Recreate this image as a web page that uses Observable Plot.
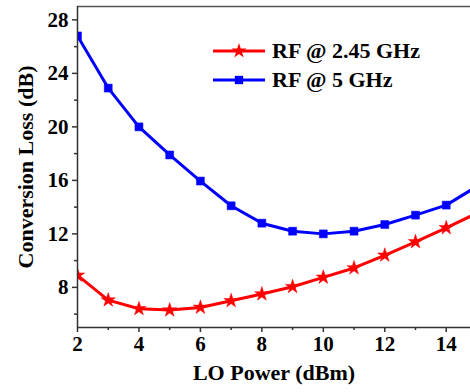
<!DOCTYPE html>
<html>
<head>
<meta charset="utf-8">
<script src="https://cdn.jsdelivr.net/npm/d3@7"></script>
<script src="https://cdn.jsdelivr.net/npm/@observablehq/plot@0.6"></script>
<style>
  html, body { margin: 0; padding: 0; background: #fff; }
  #wrap { position: relative; width: 470px; height: 392px; overflow: hidden; font-family: "Liberation Serif", "Times New Roman", serif; }
  #legend { position: absolute; left: 213px; top: 36px; font-weight: bold; font-size: 22px; color: #000; }
  .row { display: flex; align-items: center; height: 29px; }
  .row svg { margin-right: 5px; }
</style>
</head>
<body>
<div id="wrap"></div>
<script>
const loPower = [2, 3, 4, 5, 6, 7, 8, 9, 10, 11, 12, 13, 14, 15];
const loss245 = [8.9, 7.05, 6.4, 6.3, 6.5, 7.0, 7.5, 8.05, 8.75, 9.45, 10.4, 11.4, 12.45, 13.55];
const loss5   = [26.8, 22.9, 20.0, 17.9, 15.95, 14.1, 12.8, 12.2, 12.0, 12.2, 12.7, 13.4, 14.15, 15.55];
const seriesNames = ["RF @ 2.45 GHz", "RF @ 5 GHz"];
const seriesColors = ["#ff0000", "#0000ff"];
const seriesSymbols = ["star", "square"];
const xTicks = [2, 4, 6, 8, 10, 12, 14];
const xMinor = [3, 5, 7, 9, 11, 13];
const yTicks = [8, 12, 16, 20, 24, 28];
const yMinor = [6, 10, 14, 18, 22, 26];

const data = [];
loPower.forEach((x, i) => {
  data.push({x, y: loss245[i], s: seriesNames[0]});
  data.push({x, y: loss5[i], s: seriesNames[1]});
});

const axisColor = "#333";
const chart = Plot.plot({
  width: 470,
  height: 392,
  marginLeft: 77,
  marginRight: 0,
  marginTop: 6,
  marginBottom: 65,
  style: {fontFamily: "'Liberation Serif', 'Times New Roman', serif", fontWeight: "bold", fontSize: "21px", color: "#000", background: "#fff"},
  x: {domain: [2, 14.79]},
  y: {domain: [5, 29]},
  color: {domain: seriesNames, range: seriesColors},
  symbol: {domain: seriesNames, range: seriesSymbols},
  marks: [
    Plot.ruleY([29], {stroke: "#555", strokeWidth: 1.5}),
    Plot.line(data, {x: "x", y: "y", z: "s", stroke: "s", strokeWidth: 3, clip: true}),
    Plot.dot(data, {x: "x", y: "y", symbol: "s", fill: "s", stroke: "s", r: 4.5, strokeWidth: 0.5, clip: true}),
    Plot.axisX({ticks: xTicks, tickSize: 5, tickPadding: 4, stroke: axisColor, strokeWidth: 1.5, fontSize: 21,
      label: "LO Power (dBm)", labelAnchor: "center", labelArrow: "none", labelOffset: 52}),
    Plot.axisX({ticks: xMinor, tickSize: 3, text: null, label: null, stroke: axisColor, strokeWidth: 1.5}),
    Plot.axisY({ticks: yTicks, tickSize: 5, tickPadding: 4, stroke: axisColor, strokeWidth: 1.5, fontSize: 21,
      label: "Conversion Loss (dB)", labelAnchor: "center", labelArrow: "none", labelOffset: 60}),
    Plot.axisY({ticks: yMinor, tickSize: 3, text: null, label: null, stroke: axisColor, strokeWidth: 1.5}),
    Plot.ruleX([2], {stroke: axisColor, strokeWidth: 1.5}),
    Plot.ruleY([5], {stroke: axisColor, strokeWidth: 1.5})
  ]
});
const wrap = document.getElementById("wrap");
wrap.appendChild(chart);
chart.querySelectorAll("g[aria-label='x-axis label'] text, g[aria-label='y-axis label'] text").forEach(t => t.setAttribute("font-size", "22"));

// legend
const legend = document.createElement("div");
legend.id = "legend";
seriesNames.forEach((name, i) => {
  const row = document.createElement("div");
  row.className = "row";
  const sym = d3.symbol(seriesSymbols[i] === "star" ? d3.symbolStar : d3.symbolSquare, seriesSymbols[i] === "star" ? 70 : 70)();
  row.innerHTML = `<svg width="54" height="16" viewBox="0 0 54 16"><line x1="0" x2="52" y1="8" y2="8" stroke="${seriesColors[i]}" stroke-width="3"/><path d="${sym}" transform="translate(26,8)" fill="${seriesColors[i]}"/></svg><span>${name}</span>`;
  legend.appendChild(row);
});
wrap.appendChild(legend);
</script>
</body>
</html>
